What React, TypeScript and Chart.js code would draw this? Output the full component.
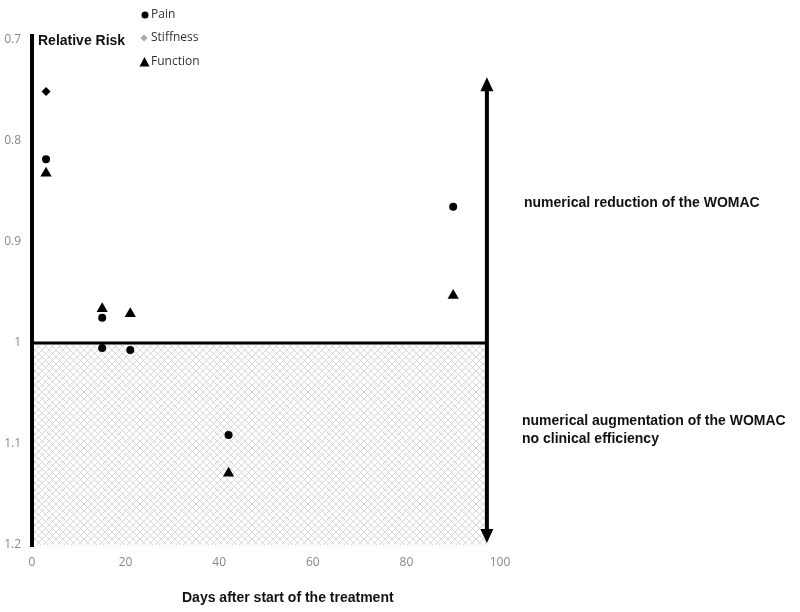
import React, { useEffect, useRef } from 'react';
import { Chart, registerables } from 'chart.js';
Chart.register(...registerables);

const xTicks = [0, 20, 40, 60, 80, 100];
const yTicks = [0.7, 0.8, 0.9, 1, 1.1, 1.2];
const seriesNames = ['Pain', 'Stiffness', 'Function'];
const painDays = [3, 15, 15, 21, 42, 90];
const painRR = [0.818, 0.975, 1.005, 1.007, 1.091, 0.865];
const stiffDays = [3];
const stiffRR = [0.751];
const funcDays = [3, 15, 21, 42, 90];
const funcRR = [0.832, 0.966, 0.971, 1.129, 0.953];
const referenceRR = 1;
const arrowDay = 97.2;
const arrowTop = 0.737;
const arrowBottom = 1.198;
const yTitle = 'Relative Risk';
const xTitle = 'Days after start of the treatment';
const upperNote = ['numerical reduction of the WOMAC'];
const lowerNote = ['numerical augmentation of the WOMAC', 'no clinical efficiency'];

const toPts = (xs: number[], ys: number[]) => xs.map((x, i) => ({ x, y: ys[i] }));

function makePattern(ctx: CanvasRenderingContext2D) {
  const c = document.createElement('canvas');
  const s = 7;
  c.width = s; c.height = s;
  const p = c.getContext('2d')!;
  p.fillStyle = '#ffffff';
  p.fillRect(0, 0, s, s);
  p.strokeStyle = 'rgba(175,175,175,0.6)';
  p.lineWidth = 0.8;
  p.beginPath();
  p.moveTo(0, 0); p.lineTo(s, s);
  p.moveTo(s, 0); p.lineTo(0, s);
  p.stroke();
  return ctx.createPattern(c, 'repeat');
}

const decorPlugin = {
  id: 'decor',
  beforeDatasetsDraw(chart: any) {
    const { ctx, chartArea, scales } = chart;
    const xs = scales.x, ys = scales.y;
    const x0 = xs.getPixelForValue(0);
    const xa = xs.getPixelForValue(arrowDay);
    const y1 = ys.getPixelForValue(referenceRR);
    const yb = ys.getPixelForValue(1.2);
    ctx.save();
    const pat = makePattern(ctx);
    if (pat) {
      ctx.fillStyle = pat;
      ctx.fillRect(x0, y1, xa - x0, yb - y1);
    }
    ctx.strokeStyle = '#000';
    ctx.lineWidth = 4;
    ctx.beginPath();
    ctx.moveTo(chartArea.left, chartArea.top - 6);
    ctx.lineTo(chartArea.left, chartArea.bottom + 2);
    ctx.stroke();
    ctx.lineWidth = 3;
    ctx.beginPath();
    ctx.moveTo(x0, y1);
    ctx.lineTo(xa, y1);
    ctx.stroke();
    const yt = ys.getPixelForValue(arrowTop);
    const ybt = ys.getPixelForValue(arrowBottom);
    const hh = 14, hw = 6.5;
    ctx.lineWidth = 4;
    ctx.beginPath();
    ctx.moveTo(xa, yt + hh - 2);
    ctx.lineTo(xa, ybt - hh + 2);
    ctx.stroke();
    ctx.fillStyle = '#000';
    ctx.beginPath();
    ctx.moveTo(xa, yt); ctx.lineTo(xa - hw, yt + hh); ctx.lineTo(xa + hw, yt + hh); ctx.closePath();
    ctx.fill();
    ctx.beginPath();
    ctx.moveTo(xa, ybt); ctx.lineTo(xa - hw, ybt - hh); ctx.lineTo(xa + hw, ybt - hh); ctx.closePath();
    ctx.fill();
    ctx.restore();
  },
  afterDraw(chart: any) {
    const { ctx, chartArea, scales } = chart;
    const ys = scales.y;
    ctx.save();
    ctx.fillStyle = '#111';
    ctx.textBaseline = 'middle';
    ctx.textAlign = 'left';
    ctx.font = 'bold 14px "Liberation Sans", Arial, sans-serif';
    ctx.fillText(yTitle, chartArea.left + 6, ys.getPixelForValue(0.7) + 1);
    ctx.fillText(xTitle, 182, 598);
    upperNote.forEach((t, i) => ctx.fillText(t, 524, 203 + i * 18));
    lowerNote.forEach((t, i) => ctx.fillText(t, 522, 421 + i * 18));
    ctx.font = '12px "Open Sans", sans-serif';
    ctx.fillStyle = '#333';
    const ly = [15, 38, 62];
    seriesNames.forEach((n, i) => ctx.fillText(n, 151, ly[i]));
    ctx.fillStyle = '#000';
    ctx.beginPath(); ctx.arc(145, 15, 3.5, 0, Math.PI * 2); ctx.fill();
    ctx.fillStyle = '#aaa';
    ctx.beginPath();
    ctx.moveTo(144, 34.5); ctx.lineTo(147.5, 38); ctx.lineTo(144, 41.5); ctx.lineTo(140.5, 38); ctx.closePath(); ctx.fill();
    ctx.fillStyle = '#000';
    ctx.beginPath();
    ctx.moveTo(144.5, 57); ctx.lineTo(149.5, 66.5); ctx.lineTo(139.5, 66.5); ctx.closePath(); ctx.fill();
    ctx.restore();
  },
};

export default function App() {
  const ref = useRef<HTMLCanvasElement>(null);
  useEffect(() => {
    if (!ref.current) return;
    const chart = new Chart(ref.current, {
      type: 'scatter',
      data: {
        datasets: [
          { label: seriesNames[0], data: toPts(painDays, painRR), pointStyle: 'circle', pointRadius: 4, backgroundColor: '#000', borderColor: '#000', borderWidth: 0 },
          { label: seriesNames[1], data: toPts(stiffDays, stiffRR), pointStyle: 'rectRot', pointRadius: 4.5, backgroundColor: '#000', borderColor: '#000', borderWidth: 0 },
          { label: seriesNames[2], data: toPts(funcDays, funcRR), pointStyle: 'triangle', pointRadius: 6.5, backgroundColor: '#000', borderColor: '#000', borderWidth: 0 },
        ],
      },
      options: {
        responsive: false,
        animation: false,
        layout: { padding: { left: 0, top: 40, right: 300, bottom: 0 } },
        plugins: { legend: { display: false }, tooltip: { enabled: false } },
        scales: {
          x: {
            type: 'linear', min: 0, max: 100,
            afterBuildTicks: (s: any) => { s.ticks = xTicks.map((v) => ({ value: v })); },
            afterFit: (s: any) => { s.height = 67; },
            grid: { display: false, drawTicks: false },
            border: { display: false },
            ticks: { padding: 10, color: '#888', font: { family: '"Open Sans", sans-serif', size: 12 }, maxRotation: 0 },
          },
          y: {
            type: 'linear', min: 0.7, max: 1.2, reverse: true,
            afterBuildTicks: (s: any) => { s.ticks = yTicks.map((v) => ({ value: v })); },
            afterFit: (s: any) => { s.width = 32; },
            grid: { display: false, drawTicks: false },
            border: { display: false },
            ticks: { padding: 11, color: '#888', font: { family: '"Open Sans", sans-serif', size: 12 }, callback: (v: any) => String(Number(Number(v).toFixed(1))) },
          },
        },
      },
      plugins: [decorPlugin],
    } as any);
    return () => chart.destroy();
  }, []);
  return (
    <div style={{ position: 'absolute', left: 0, top: 0, width: 800, height: 612, background: '#fff' }}>
      <canvas ref={ref} width={800} height={612} />
    </div>
  );
}
